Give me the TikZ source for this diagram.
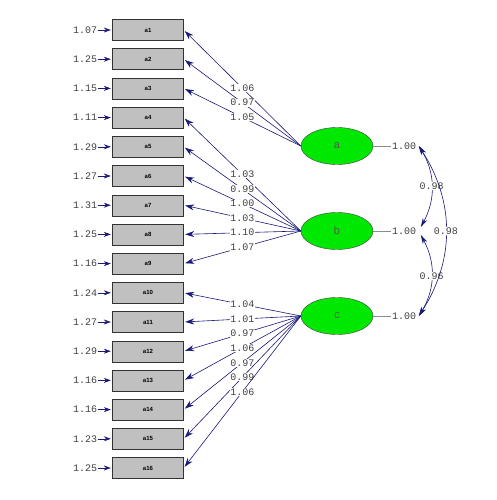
\documentclass[tikz,border=0pt]{standalone}
\usepackage{fontspec}
\setmonofont{Liberation Mono}
\setsansfont{Liberation Sans}
\definecolor{pathblue}{RGB}{25,25,120}
\definecolor{boxgray}{RGB}{192,192,192}
\definecolor{latentgreen}{RGB}{0,232,0}
\usepackage{tikz}
\usetikzlibrary{shapes,arrows.meta,positioning,calc}
\usepackage{xcolor}

\begin{document}
\begin{tikzpicture}[x=1pt,y=-1pt,
                obsbox/.style={draw=black!80,fill=boxgray,minimum width=71pt,minimum height=21pt,
                      inner sep=0pt,font=\sffamily\bfseries\fontsize{6}{6}\selectfont},
                latent/.style={ellipse,draw=black!75,fill=latentgreen,minimum width=72pt,
                      minimum height=37pt,inner sep=0pt,text=black!65,font=\sffamily\fontsize{11}{11}\selectfont},
                est/.style={font=\ttfamily\fontsize{10}{10}\selectfont,text=black!75,inner sep=0.6pt},
                loadlab/.style={est,fill=white,pos=0.5},
                path/.style={draw=pathblue,line width=0.6pt,shorten >=1.5pt,-{Stealth[length=9pt,width=6pt]}},
                twoway/.style={draw=pathblue,line width=0.6pt,{Stealth[length=9pt,width=5pt]}-{Stealth[length=9pt,width=5pt]}}]
                \useasboundingbox (0,0) rectangle (497,500);
                \foreach \i/\err in {1/1.07,2/1.25,3/1.15,4/1.11,5/1.29,6/1.27,7/1.31,8/1.25,
                                     9/1.16,10/1.24,11/1.27,12/1.29,13/1.16,14/1.16,15/1.23,16/1.25}{
                    \node[obsbox] (a\i) at (148,{30+(\i-1)*29.2}) {a\i};
                    \node[est,anchor=east] (e\i) at (98,{30+(\i-1)*29.2}) {\err};
                    \draw[path,-{Stealth[length=7pt,width=5pt]}] (e\i.east) -- (a\i.west);
                }
                \node[latent] (a) at (337,146) {a};
                \node[latent] (b) at (337,231) {b};
                \node[latent] (c) at (337,316) {c};
                \foreach \i/\lam in {1/1.06,2/0.97,3/1.05}{
                    \draw[path] (a.west) -- node[loadlab] {\lam} (a\i.east);
                }
                \foreach \i/\lam in {4/1.03,5/0.99,6/1.00,7/1.03,8/1.10,9/1.07}{
                    \draw[path] (b.west) -- node[loadlab] {\lam} (a\i.east);
                }
                \foreach \i/\lam in {10/1.04,11/1.01,12/0.97,13/1.06,14/0.97,15/0.99,16/1.06}{
                    \draw[path] (c.west) -- node[loadlab] {\lam} (a\i.east);
                }
                \foreach \f in {a,b,c}{
                    \node[est,right=18pt of \f] (v\f) {1.00};
                    \draw[black!45] (\f.east) -- (v\f.west);
                }
                \draw[twoway] ($(va.east)+(2,0)$) to[bend left=30] node[est,fill=white] {0.98} ($(vb.east)+(4,-4)$);
                \draw[twoway] ($(vb.east)+(4,4)$) to[bend left=30] node[est,fill=white] {0.96} ($(vc.east)+(2,0)$);
                \draw[twoway] ($(va.east)+(2,0)$) to[bend left=33] node[est,fill=white] {0.98} ($(vc.east)+(2,0)$);
            \end{tikzpicture}
\end{document}
